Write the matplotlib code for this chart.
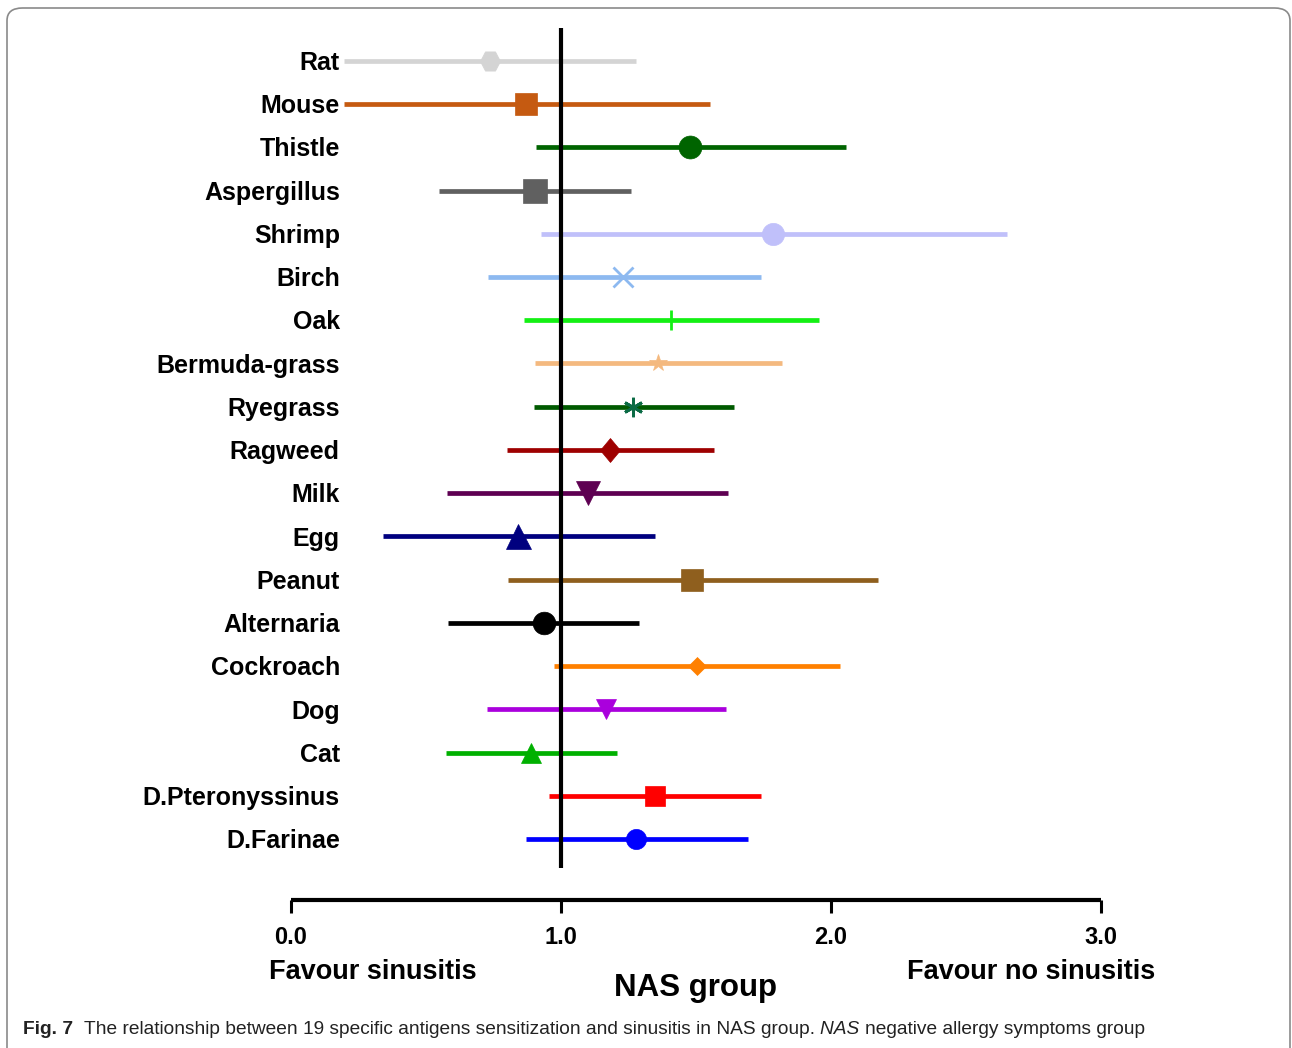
import matplotlib
matplotlib.use("Agg")
import matplotlib.pyplot as plt
from matplotlib.patches import FancyBboxPatch
from matplotlib.markers import MarkerStyle
from matplotlib.transforms import Affine2D

plt.rcParams['font.family'] = ['Liberation Sans', 'DejaVu Sans']

# data (top to bottom)
antigens = ['Rat', 'Mouse', 'Thistle', 'Aspergillus', 'Shrimp', 'Birch', 'Oak',
            'Bermuda-grass', 'Ryegrass', 'Ragweed', 'Milk', 'Egg', 'Peanut',
            'Alternaria', 'Cockroach', 'Dog', 'Cat', 'D.Pteronyssinus', 'D.Farinae']
odds = [0.737, 0.870, 1.478, 0.904, 1.785, 1.230, 1.407, 1.359, 1.267, 1.181,
        1.100, 0.841, 1.485, 0.937, 1.504, 1.167, 0.889, 1.348, 1.278]
lower = [0.196, 0.196, 0.907, 0.548, 0.926, 0.730, 0.863, 0.904, 0.900, 0.800,
         0.578, 0.341, 0.804, 0.581, 0.974, 0.726, 0.574, 0.956, 0.870]
upper = [1.278, 1.552, 2.056, 1.259, 2.652, 1.741, 1.956, 1.819, 1.641, 1.567,
         1.619, 1.348, 2.174, 1.289, 2.033, 1.611, 1.207, 1.741, 1.693]

line_colors = ['#D4D4D4', '#C55A11', '#006400', '#606060', '#C0C0FA', '#8DB9F0',
               '#14F014', '#F4B97F', '#005A00', '#9E0000', '#5E0052', '#00007F',
               '#8F5F1E', '#000000', '#FF8000', '#AA00DD', '#00B000', '#FF0000', '#0000FF']
marker_colors = list(line_colors)
marker_colors[8] = '#0B6B45'
markers = ['H', 's', 'o', 's', 'o', 'x', '|', '*', (6, 2, 0), 'D', 'v', '^', 's',
           'o', 'D', 'v', '^', 's', 'o']
# marker size (points) and vertical stretch of each marker
msizes = [14.5, 16.5, 16.5, 17, 16, 15, 14.5, 13, 14, 10.2, 17.5, 18, 16.5,
          16.3, 9.2, 14.2, 14.2, 14.5, 14.5]
ystretch = [1.1, 1, 1, 1, 1, 1, 1, 1, 1, 1.2, 0.95, 1, 1, 1, 1.05, 1, 1, 1, 1]

W, H = 1292, 1048
fig = plt.figure(figsize=(W / 100, H / 100), dpi=100)

# frame around the figure
frame = FancyBboxPatch((7 / W, -0.05), (1283) / W, 1.05 - 8 / H,
                       boxstyle="round,pad=0,rounding_size=0.012",
                       transform=fig.transFigure, fill=False,
                       edgecolor='#8A8A8A', linewidth=1.2)
fig.patches.append(frame)

ax = fig.add_axes([291 / W, (H - 900) / H, 810 / W, 872 / H])
n = len(antigens)
ys = [n - 1 - i for i in range(n)]
ax.set_xlim(0, 3)
ax.set_ylim(-1.41, n - 1 + 0.76)

for i in range(n):
    ax.plot([lower[i], upper[i]], [ys[i], ys[i]], color=line_colors[i],
            lw=3.4, solid_capstyle='butt', zorder=2)

ax.plot([1, 1], [-0.67, n - 1 + 0.76], color='black', lw=3, zorder=3,
        solid_capstyle='butt')

for i in range(n):
    m = markers[i]
    thin = m in ('x', '|', (6, 2, 0))
    mk = MarkerStyle(m, transform=Affine2D().scale(1, ystretch[i]))
    ax.plot(odds[i], ys[i], marker=mk, ms=msizes[i], color=marker_colors[i],
            mec=marker_colors[i], mew=2.0 if thin else 0.5, ls='none', zorder=4)
    ax.text(0.181, ys[i] - 0.05, antigens[i], ha='right', va='center',
            fontsize=18, fontweight='bold', zorder=5)

for s in ['left', 'top', 'right']:
    ax.spines[s].set_visible(False)
ax.spines['bottom'].set_linewidth(3)
ax.spines['bottom'].set_capstyle('butt')
ax.set_yticks([])
ax.set_xticks([0, 1, 2, 3])
ax.set_xticklabels(['0.0', '1.0', '2.0', '3.0'], fontsize=17, fontweight='bold')
ax.tick_params(axis='x', length=9.5, width=2.2, pad=9.5)

fig.text(373 / W, 1 - 972 / H, 'Favour sinusitis', ha='center', va='center',
         fontsize=19.5, fontweight='bold')
fig.text(1031 / W, 1 - 972 / H, 'Favour no sinusitis', ha='center', va='center',
         fontsize=19.5, fontweight='bold')
fig.text(696 / W, 1 - 988 / H, 'NAS group', ha='center', va='center',
         fontsize=22.5, fontweight='bold')

# caption with mixed styles
cap_y = 1 - 1029 / H
parts = [('Fig. 7', 'bold', 'normal', '  '),
         ('The relationship between 19 specific antigens sensitization and sinusitis in NAS group.', 'normal', 'normal', ' '),
         ('NAS', 'normal', 'italic', ' '),
         ('negative allergy symptoms group', 'normal', 'normal', '')]
renderer = fig.canvas.get_renderer()
x = 23 / W
for txt, wt, st, gap in parts:
    t = fig.text(x, cap_y, txt + gap, ha='left', va='center', fontsize=13.8,
                 fontweight=wt, fontstyle=st, color='#222222')
    bb = t.get_window_extent(renderer)
    x += bb.width / W

fig.savefig('out.png', dpi=100)
